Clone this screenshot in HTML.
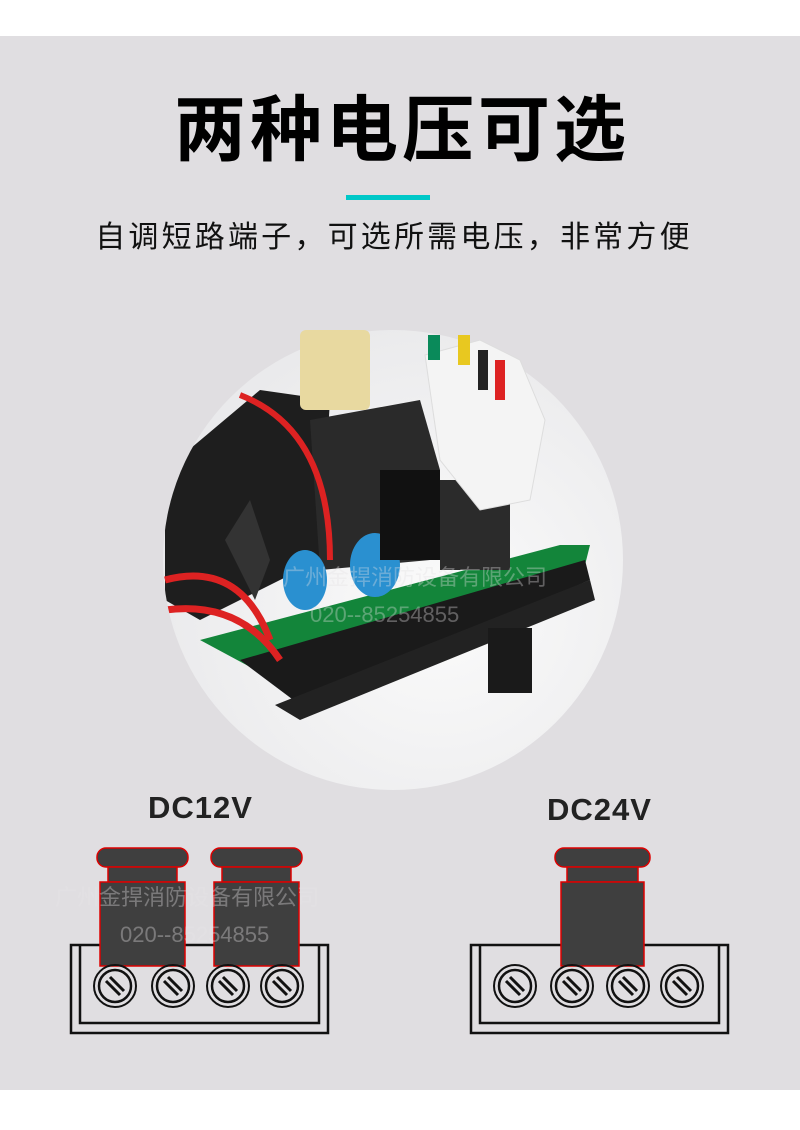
<!DOCTYPE html>
<html><head><meta charset="utf-8"><style>
html,body{margin:0;padding:0}
body{width:800px;height:1130px;background:#fff;position:relative;overflow:hidden;font-family:"Liberation Sans","Noto Sans CJK SC",sans-serif}
#bg{position:absolute;left:0;top:36px;width:800px;height:1054px;background:#e0dee1}
.t{position:absolute;left:0;width:800px;text-align:center}
</style></head><body>
<div id="bg"></div>
<div class="t" style="top:86px;font-size:72px;font-weight:bold;letter-spacing:4px;color:#000;line-height:90px;text-indent:4px">两种电压可选</div>
<div style="position:absolute;left:346px;top:195px;width:84px;height:5px;background:#00c8c8"></div>
<div class="t" style="top:218px;left:-6px;font-size:30px;letter-spacing:3.2px;color:#111;line-height:40px">自调短路端子，可选所需电压，非常方便</div>
<svg width="800" height="1130" style="position:absolute;left:0;top:0">
<defs><clipPath id="c"><circle cx="393" cy="560" r="230"/></clipPath>
<radialGradient id="g" cx="0.6" cy="0.6" r="0.7"><stop offset="0" stop-color="#fbfbfb"/><stop offset="1" stop-color="#e8e8ea"/></radialGradient>
<g id="sc" stroke="#111" fill="none"><circle r="21" stroke-width="2"/><circle r="16" stroke-width="2.5"/><path d="M-9-5L5 9M-5-9L9 5" stroke-width="3"/></g>
</defs>
<circle cx="393" cy="560" r="230" fill="url(#g)"/>
<g clip-path="url(#c)">
<polygon points="165,470 260,390 330,400 320,560 200,620 165,600" fill="#1e1e1e"/>
<polygon points="310,420 420,400 440,470 430,560 320,570" fill="#2a2a2a"/>
<polygon points="225,540 250,500 270,560 255,600" fill="#333"/>
<polygon points="200,640 560,545 590,545 585,565 265,675" fill="#13853a"/>
<polygon points="240,660 585,560 590,580 300,705" fill="#1a1a1a"/>
<polygon points="275,705 590,580 595,600 300,720" fill="#222"/>
<path d="M165 580 Q240 560 270 640 M165 610 Q240 600 280 660" stroke="#d22" stroke-width="7" fill="none"/>
<path d="M240 395 Q330 430 330 560" stroke="#d22" stroke-width="6" fill="none"/>
<ellipse cx="305" cy="580" rx="22" ry="30" fill="#2a90d0"/>
<ellipse cx="375" cy="565" rx="25" ry="32" fill="#2a90d0"/>
<rect x="380" y="470" width="60" height="90" fill="#111"/>
<rect x="440" y="480" width="70" height="90" fill="#2b2b2b"/>
</g>
<rect x="300" y="330" width="70" height="80" fill="#e8d9a0" rx="6"/>
<polygon points="425,355 480,340 520,360 545,420 530,500 480,510 440,460" fill="#f4f4f4" stroke="#ddd"/>
<rect x="428" y="335" width="12" height="25" fill="#0a8a5a"/>
<rect x="458" y="335" width="12" height="30" fill="#e8c820"/>
<rect x="478" y="350" width="10" height="40" fill="#222"/>
<rect x="495" y="360" width="10" height="40" fill="#d22"/>
<rect x="488" y="628" width="44" height="65" fill="#1a1a1a"/>
<g fill="#e4e2e4" opacity="0.35" font-size="22"><text x="283" y="585">广州金捍消防设备有限公司</text><text x="310" y="622">020--85254855</text></g>
<g font-weight="bold" font-size="31" fill="#222"><text x="148" y="818" letter-spacing="1">DC12V</text><text x="547" y="820" letter-spacing="1">DC24V</text></g>
<g fill="none" stroke="#111" stroke-width="2.5">
<rect x="71" y="945" width="257" height="88"/><path d="M80 945V1023H319V945"/>
<rect x="471" y="945" width="257" height="88"/><path d="M480 945V1023H719V945"/>
</g>
<g fill="#3f3f3f" stroke="#d00" stroke-width="1.5">
<rect x="97" y="848" width="91" height="19" rx="9"/><rect x="108" y="867" width="69" height="15"/><rect x="100" y="882" width="85" height="84"/>
<rect x="211" y="848" width="91" height="19" rx="9"/><rect x="222" y="867" width="69" height="15"/><rect x="214" y="882" width="85" height="84"/>
<rect x="555" y="848" width="95" height="19" rx="9"/><rect x="567" y="867" width="71" height="15"/><rect x="561" y="882" width="83" height="84"/>
</g>
<use href="#sc" x="115" y="986"/><use href="#sc" x="173" y="986"/><use href="#sc" x="228" y="986"/><use href="#sc" x="282" y="986"/>
<use href="#sc" x="515" y="986"/><use href="#sc" x="572" y="986"/><use href="#sc" x="628" y="986"/><use href="#sc" x="682" y="986"/>
<g fill="#e8e6e8" opacity="0.35" font-size="22"><text x="55" y="905">广州金捍消防设备有限公司</text><text x="120" y="942">020--85254855</text></g>
</svg>
</body></html>
